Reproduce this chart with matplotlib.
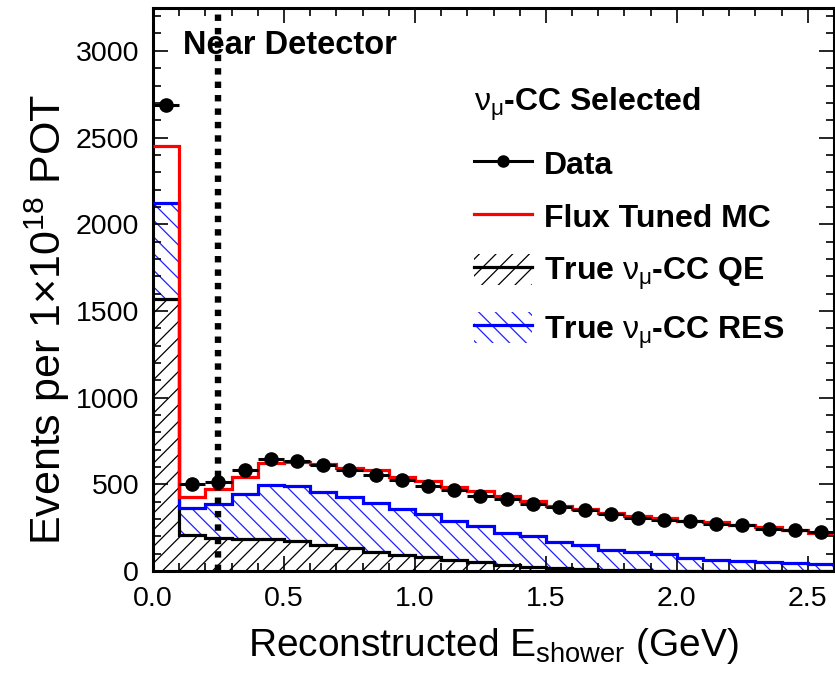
import numpy as np
import matplotlib
matplotlib.use("Agg")
import matplotlib.pyplot as plt
from matplotlib.lines import Line2D
from matplotlib.patches import Patch

plt.rcParams['font.family'] = ['Liberation Sans', 'DejaVu Sans']
plt.rcParams['mathtext.fontset'] = 'custom'
plt.rcParams['mathtext.rm'] = 'Liberation Sans'
plt.rcParams['mathtext.it'] = 'Liberation Sans'
plt.rcParams['mathtext.bf'] = 'Liberation Sans:bold'
plt.rcParams['hatch.linewidth'] = 0.9

# ---------------- data ----------------
bin_edges = np.round(np.arange(0.0, 2.61, 0.1), 2)
bin_centers = (bin_edges[:-1] + bin_edges[1:]) / 2

data_counts = [2690, 503, 511, 583, 644, 637, 610, 583, 555, 522, 488, 465, 433,
               418, 387, 370, 351, 326, 307, 297, 288, 273, 263, 244, 236, 225]
mc_total = [2450, 427, 475, 542, 622, 629, 618, 593, 583, 542, 517, 484, 461,
            433, 402, 376, 355, 337, 318, 304, 290, 280, 264, 252, 238, 219]
qe_counts = [1568, 206, 190, 186, 183, 172, 150, 131, 107, 94, 78, 63, 50,
             36, 25, 17, 11, 6, 3, 2, 1, 1, 0, 0, 0, 0]
res_counts = [552, 158, 199, 258, 313, 316, 308, 296, 286, 261, 248, 225, 211,
              183, 177, 151, 140, 116, 108, 95, 73, 64, 55, 50, 46, 38]

x_ticks = [0.0, 0.5, 1.0, 1.5, 2.0, 2.5]
y_ticks = [0, 500, 1000, 1500, 2000, 2500, 3000]
nd_cut = 0.25

data_counts = np.array(data_counts, float)
mc_total = np.array(mc_total, float)
qe_counts = np.array(qe_counts, float)
res_counts = np.array(res_counts, float)
res_top = qe_counts + res_counts

# ---------------- figure ----------------
fig = plt.figure(figsize=(8.35, 6.73), dpi=100)
ax = fig.add_axes([153 / 835, (673 - 571) / 673, (834 - 153) / 835, (571 - 8) / 673])

# hatched fills
ax.stairs(qe_counts, bin_edges, baseline=0, fill=True, facecolor='none',
          edgecolor='black', hatch='//', linewidth=0, zorder=1)
ax.stairs(res_top, bin_edges, baseline=qe_counts, fill=True, facecolor='none',
          edgecolor='#2020ff', hatch='\\\\', linewidth=0, zorder=1)

# outlines
ax.stairs(qe_counts, bin_edges, baseline=None, color='black', linewidth=2.3, zorder=3)
ax.stairs(res_top, bin_edges, baseline=None, color='#0000ff', linewidth=2.3, zorder=3)
ax.stairs(mc_total, bin_edges, baseline=None, color='#ff0000', linewidth=2.3, zorder=4)

# data
ax.errorbar(bin_centers, data_counts, xerr=0.05, yerr=np.sqrt(data_counts) * 0.1,
            fmt='o', color='black', markersize=9.5, elinewidth=2.2, capsize=0, zorder=5)

# near-detector cut line
ax.axvline(nd_cut, color='black', linewidth=4.6, linestyle=(0, (1.0, 1.1)),
           dash_capstyle='butt', zorder=4)

ax.set_xlim(0, 2.6)
ax.set_ylim(0, 3247)
ax.set_xticks(x_ticks)
ax.set_xticklabels([f"{v:.1f}" for v in x_ticks])
ax.set_yticks(y_ticks)
ax.set_xticks(np.arange(0, 2.61, 0.1), minor=True)
ax.set_yticks(np.arange(0, 3201, 100), minor=True)
ax.tick_params(which='both', direction='in', top=True, right=True, labelsize=20.5, width=1.2)
ax.tick_params(which='major', length=11)
ax.tick_params(axis='x', which='major', pad=11)
ax.tick_params(axis='y', which='major', pad=10)
ax.tick_params(which='minor', length=6)
for s in ax.spines.values():
    s.set_linewidth(2.2)

ax.set_xlabel(r"Reconstructed E$_{\mathregular{shower}}$ (GeV)", fontsize=28, labelpad=10)
ax.set_ylabel(r"Events per 1$\times$10$^{18}$ POT", fontsize=31, labelpad=6)
ax.yaxis.set_label_coords((72 - 153) / 681, (571 - 320) / 563)

ax.text((183 - 153) / 681, (571 - 46) / 563, "Near Detector", transform=ax.transAxes,
        fontsize=23.5, fontweight='bold', ha='left', va='center', zorder=6)

# legend
h_data = Line2D([], [], color='black', marker='o', markersize=8, linewidth=2.2)
h_mc = Line2D([], [], color='#ff0000', linewidth=2.3)
h_qe = (Patch(facecolor='none', edgecolor='black', hatch='//', linewidth=0),
        Line2D([], [], color='black', linewidth=2.3))
h_res = (Patch(facecolor='none', edgecolor='#2020ff', hatch='\\\\', linewidth=0),
         Line2D([], [], color='#0000ff', linewidth=2.3))
leg = ax.legend([h_data, h_mc, h_qe, h_res],
                ["Data", "Flux Tuned MC", r"True $\nu_{\mu}$-CC QE", r"True $\nu_{\mu}$-CC RES"],
                title=r"$\nu_{\mu}$-CC Selected", loc='upper left',
                bbox_to_anchor=(474 / 835, 1 - 86 / 673), bbox_transform=fig.transFigure,
                frameon=False, prop={'size': 23, 'weight': 'bold'},
                title_fontproperties={'size': 23, 'weight': 'bold'},
                handlelength=1.8, handleheight=1.1, handletextpad=0.4,
                labelspacing=0.62, alignment='left', borderaxespad=0, borderpad=0)
leg._legend_box.sep = 18

fig.savefig("out.png", dpi=100)
